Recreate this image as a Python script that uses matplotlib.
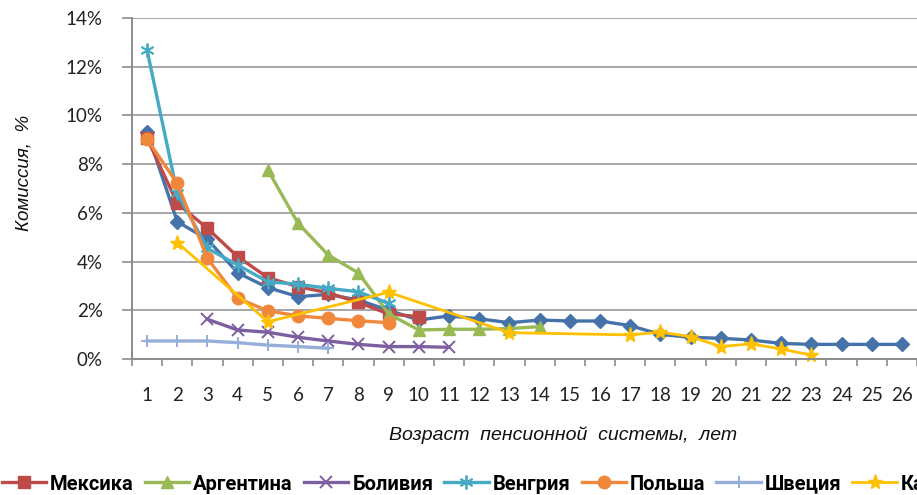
import matplotlib
matplotlib.use('Agg')
import matplotlib.pyplot as plt
import numpy as np

# ---- data (commission, % ; x = age of pension system, years) ----
years = list(range(1, 27))

chile     = [9.33, 5.64, 4.91, 3.54, 2.93, 2.56, 2.65, 2.42, 2.00, 1.60, 1.77, 1.65, 1.49,
             1.60, 1.56, 1.56, 1.37, 1.01, 0.89, 0.85, 0.78, 0.64, 0.60, 0.60, 0.60, 0.60]
mexico    = [9.06, 6.39, 5.36, 4.20, 3.34, 2.97, 2.72, 2.32, 1.85, 1.74]
argentina = [None, None, None, None, 7.76, 5.57, 4.27, 3.53, 1.85, 1.19, 1.22, 1.22, 1.25, 1.33]
bolivia   = [None, None, 1.63, 1.19, 1.10, 0.89, 0.74, 0.60, 0.51, 0.51, 0.48]
hungary   = [12.68, 6.80, 4.54, 3.86, 3.17, 3.07, 2.90, 2.76, 2.28]
poland    = [9.02, 7.21, 4.13, 2.49, 1.98, 1.77, 1.67, 1.57, 1.49]
sweden    = [0.74, 0.74, 0.74, 0.67, 0.57, 0.51, 0.44]
kazakh    = [None, 4.78, None, None, 1.53, None, None, None, 2.74, None, None, None, 1.08,
             None, None, None, 0.99, 1.10, 0.92, 0.51, 0.62, 0.41, 0.16]

yticks = [0, 2, 4, 6, 8, 10, 12, 14]

# ---- figure ----
fig = plt.figure(figsize=(9.17, 4.95), dpi=100)
ax = fig.add_axes([132 / 917, 1 - 359 / 495, 785 / 917, 341 / 495])

series = [
    ('Чили',      chile,     '#4573A9', 'D', 7.0, 2.4),
    ('Мексика',   mexico,    '#BE4B48', 's', 8.5, 2.4),
    ('Аргентина', argentina, '#98B954', '^', 9.0, 2.4),
    ('Боливия',   bolivia,   '#7D5FA0', 'x', 8.0, 2.4),
    ('Венгрия',   hungary,   '#46AAC5', '*', 0.0, 2.4),
    ('Польша',    poland,    '#F0883C', 'o', 9.0, 2.4),
    ('Швеция',    sweden,    '#95AEDA', '+', 9.0, 2.4),
    ('Казахстан', kazakh,    '#FFC000', '*', 11.0, 2.0),
]

handles = []
for name, vals, col, mk, ms, lw in series:
    xs = [years[i] for i, v in enumerate(vals) if v is not None]
    ys = [v for v in vals if v is not None]
    if name == 'Венгрия':
        # asterisk marker
        h, = ax.plot(xs, ys, color=col, lw=lw, marker=(6, 2, 0), ms=10,
                     mew=1.3, mec=col, label=name, clip_on=False)
    elif mk in ('x', '+'):
        h, = ax.plot(xs, ys, color=col, lw=lw, marker=mk, ms=ms, mew=1.4,
                     label=name, clip_on=False)
    else:
        h, = ax.plot(xs, ys, color=col, lw=lw, marker=mk, ms=ms, mec=col,
                     label=name, clip_on=False)
    handles.append(h)

# ---- axes styling ----
ax.set_xlim(0.5, 26.5)
ax.set_ylim(0, 14)
ax.set_xticks(years)
ax.set_xticks(np.arange(0.5, 27, 1), minor=True)
ax.set_yticks(yticks)
ax.set_yticklabels([f'{t}%' for t in yticks])
ax.tick_params(axis='x', which='major', length=0, pad=20, labelsize=13.5,
               labelcolor='#222222')
ax.tick_params(axis='x', which='minor', length=5, width=1.2, color='#8C8C8C')
ax.tick_params(axis='y', length=7, width=1.2, color='#8C8C8C', pad=14,
               labelsize=13.5, labelcolor='#222222')
for lab in ax.get_xticklabels() + ax.get_yticklabels():
    lab.set_family(['Lato', 'DejaVu Sans'])

ax.grid(axis='y', color='#A6A6A6', lw=1.4)
ax.set_axisbelow(True)
for s in ['top', 'right']:
    ax.spines[s].set_visible(False)
for s in ['left', 'bottom']:
    ax.spines[s].set_color('#8C8C8C')
    ax.spines[s].set_linewidth(1.4)

fig.text(24 / 917, 1 - 173 / 495, 'Комиссия,  %', rotation=90, style='italic',
         fontsize=13.5, family=['Liberation Sans', 'DejaVu Sans'],
         ha='center', va='center', color='#111111')
fig.text(563 / 917, 1 - 435 / 495, 'Возраст  пенсионной  системы,  лет',
         style='italic', fontsize=14, family=['Liberation Sans', 'DejaVu Sans'],
         ha='center', va='center', color='#111111')

# ---- legend (row is wider than the picture: first and last entries are cut) ----
leg = fig.legend(handles=handles, loc='center left', ncol=8,
                 bbox_to_anchor=(0.0, 1 - 484 / 495), frameon=False,
                 handlelength=2.2, handletextpad=0.2, columnspacing=0.55,
                 prop={'family': ['Roboto', 'DejaVu Sans'],
                       'weight': 'bold', 'size': 14.5})
fig.canvas.draw()
r = fig.canvas.get_renderer()
# shift so that the text "Мексика" starts near x = 47 px
tx = leg.get_texts()[1].get_window_extent(r).x0
bx = leg.get_window_extent(r).x0
anchor_x = (40 - (tx - bx)) / fig.bbox.width
leg.set_bbox_to_anchor((anchor_x, 1 - 484 / 495), transform=fig.transFigure)

fig.savefig('out.png', dpi=100)
